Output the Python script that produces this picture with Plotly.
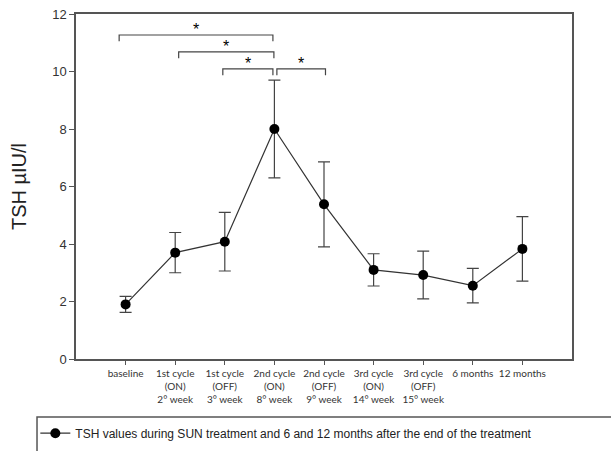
import plotly.graph_objects as go

categories = ["baseline", "1st cycle<br>(ON)<br>2° week", "1st cycle<br>(OFF)<br>3° week",
              "2nd cycle<br>(ON)<br>8° week", "2nd cycle<br>(OFF)<br>9° week",
              "3rd cycle<br>(ON)<br>14° week", "3rd cycle<br>(OFF)<br>15° week",
              "6 months", "12 months"]
tsh_mean = [1.9, 3.7, 4.08, 8.0, 5.38, 3.1, 2.92, 2.55, 3.83]
tsh_err = [0.28, 0.7, 1.02, 1.7, 1.48, 0.56, 0.83, 0.6, 1.12]

# significance brackets: (left index, right index, bracket height)
brackets = [(-0.13, 2.97, 11.27), (1.07, 2.99, 10.68), (1.96, 2.97, 10.09), (3.05, 4.03, 10.09)]
bracket_drop = 0.22
star_offset = 0.2

x_idx = list(range(len(categories)))

fig = go.Figure()
fig.add_trace(go.Scatter(
    x=x_idx, y=tsh_mean, mode="lines+markers",
    name="TSH values during SUN treatment and 6 and 12 months after the end of the treatment",
    line=dict(color="#333333", width=1.2),
    marker=dict(color="black", size=10),
    error_y=dict(type="data", array=tsh_err, color="#444444", thickness=1.2, width=6),
))

shapes = []
annotations = []
for x0, x1, h in brackets:
    shapes.append(dict(type="path", xref="x", yref="y",
                       path=f"M {x0},{h - bracket_drop} L {x0},{h} L {x1},{h} L {x1},{h - bracket_drop}",
                       line=dict(color="#444444", width=1.2)))
    annotations.append(dict(x=(x0 + x1) / 2, y=h + star_offset, xref="x", yref="y",
                            text="*", showarrow=False, font=dict(size=16, color="black",
                                                                 family="Liberation Sans")))

# legend frame (only top and left edges are visible in the reference)
shapes.append(dict(type="path", xref="paper", yref="paper",
                   path="M -0.0786,-0.35 L -0.0786,-0.168 L 1.2,-0.168",
                   line=dict(color="#555", width=1.5)))

fig.update_layout(
    width=611, height=451,
    margin=dict(l=76, r=39, t=14, b=92, autoexpand=False),
    paper_bgcolor="white", plot_bgcolor="white",
    shapes=shapes, annotations=annotations,
    showlegend=True,
    legend=dict(x=-0.082, y=-0.173, xanchor="left", yanchor="top", maxheight=120,
                font=dict(family="Liberation Sans", size=12, color="#222"),
                bgcolor="rgba(0,0,0,0)", borderwidth=0),
    xaxis=dict(range=[-1, 9], tickmode="array", tickvals=x_idx, ticktext=categories,
               showline=True, linecolor="#555", linewidth=1.5, mirror=True,
               ticks="outside", ticklen=4, tickcolor="#555", showgrid=False, zeroline=False,
               tickfont=dict(family="Lato", size=10, color="#333")),
    yaxis=dict(range=[0, 12], tickvals=[0, 2, 4, 6, 8, 10, 12],
               showline=True, linecolor="#555", linewidth=1.5, mirror=True,
               ticks="outside", ticklen=5, tickcolor="#555", showgrid=False, zeroline=False,
               tickfont=dict(family="Liberation Sans", size=13, color="#333"),
               title=dict(text="TSH µIU/l", font=dict(family="Liberation Sans", size=20, color="#222"),
                          standoff=20)),
)

fig.write_html("out.html")
